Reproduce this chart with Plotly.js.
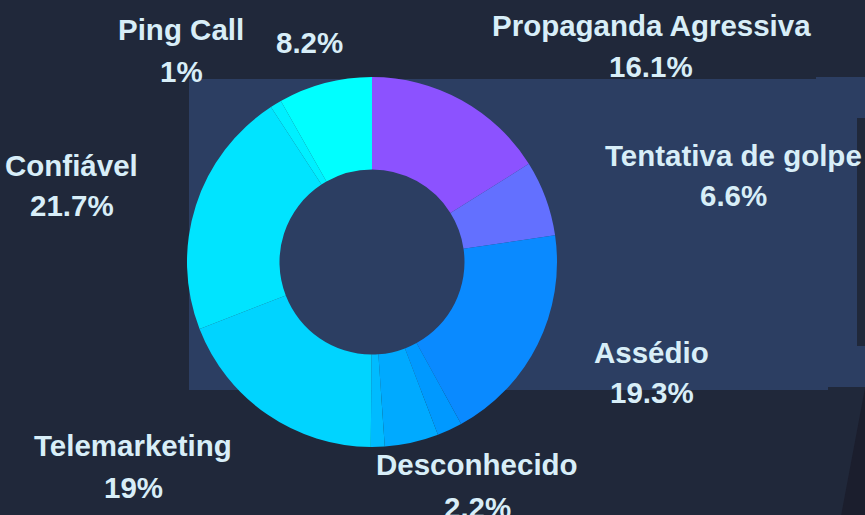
<!DOCTYPE html>
<html>
<head>
<meta charset="utf-8">
<script src="https://cdn.plot.ly/plotly-3.0.1.min.js"></script>
<style>html,body{margin:0;padding:0;background:#20283a;}#chart{width:865px;height:515px;}</style>
</head>
<body>
<div id="chart"></div>
<script>
// ---- data ----
const categories = ["Propaganda Agressiva", "Tentativa de golpe", "Assédio", "Desconhecido", "Outro 1", "Outro 2", "Telemarketing", "Confiável", "Ping Call", "Outro 3"];
const percentValues = [16.1, 6.6, 19.3, 2.2, 4.7, 1.2, 19.0, 21.7, 1.0, 8.2];
// which text is shown beside each slice: "both" = name + percent, "pct" = percent only, "none"
const labelShown = ["both", "both", "both", "both", "none", "none", "both", "both", "both", "pct"];

// ---- styles / positions (pixels in the 865x515 page) ----
const sliceColors = ["#8c52ff", "#6370ff", "#0a8aff", "#0099ff", "#00aaff", "#00bbff", "#00d4ff", "#00e4ff", "#00f0ff", "#00ffff"];
const labelCenterX = [651, 733, 651.5, 477, null, null, 133, 71.5, 181, 309.5];
const nameLineY = [25.5, 155.5, 352, 464.5, null, null, 445, 165.5, 29.5, null];
const pctLineY = [66.5, 195.5, 392, 507.5, null, null, 487, 205.5, 71.5, 42.5];

const W = 865, H = 515;
const px = x => x / W;
const py = y => 1 - y / H;

const total = percentValues.reduce((a, b) => a + b, 0);
function fmtPct(v) {
  let t = (v / total * 100).toPrecision(3);
  if (t.indexOf('.') !== -1) t = t.replace(/[.]?0+$/, '');
  return t + '%';
}

const labelFont = {family: "Liberation Sans, Arial, sans-serif", size: 29.5, color: "#d8eef8", weight: "bold"};

const annotations = [];
categories.forEach((name, i) => {
  if (labelShown[i] === "none") return;
  if (labelShown[i] === "both") {
    annotations.push({xref: "paper", yref: "paper", x: px(labelCenterX[i]), y: py(nameLineY[i]), xanchor: "center", yanchor: "middle", text: name, showarrow: false, font: labelFont});
  }
  annotations.push({xref: "paper", yref: "paper", x: px(labelCenterX[i]), y: py(pctLineY[i]), xanchor: "center", yanchor: "middle", text: fmtPct(percentValues[i]), showarrow: false, font: labelFont});
});

const trace = {
  type: "pie",
  labels: categories,
  values: percentValues,
  sort: false,
  direction: "clockwise",
  rotation: 0,
  hole: 0.5,
  marker: {colors: sliceColors, line: {width: 0}},
  textinfo: "none",
  domain: {x: [px(187), px(557)], y: [py(447), py(77)]},
  showlegend: false,
  hoverinfo: "label+percent"
};

const layout = {
  width: W, height: H,
  margin: {l: 0, r: 0, t: 0, b: 0},
  paper_bgcolor: "#20283a",
  showlegend: false,
  annotations: annotations,
  shapes: [
    {type: "rect", xref: "paper", yref: "paper", x0: px(816), x1: px(866), y0: py(387), y1: py(77), fillcolor: "#2c3e62", line: {width: 0}, layer: "below"},
    {type: "rect", xref: "paper", yref: "paper", x0: px(189), x1: px(828), y0: py(390), y1: py(79), fillcolor: "#2c3e62", line: {width: 0}, layer: "below"},
    {type: "rect", xref: "paper", yref: "paper", x0: px(857), x1: px(866), y0: py(346), y1: py(118), fillcolor: "#20283a", line: {width: 0}, layer: "below"},
    {type: "path", xref: "paper", yref: "paper", path: `M ${px(865)} ${py(388)} L ${px(841)} ${py(516)} L ${px(866)} ${py(516)} Z`, fillcolor: "#1b1e2d", line: {width: 0}, layer: "below"}
  ]
};

Plotly.newPlot("chart", [trace], layout, {displayModeBar: false, staticPlot: true});
</script>
</body>
</html>
